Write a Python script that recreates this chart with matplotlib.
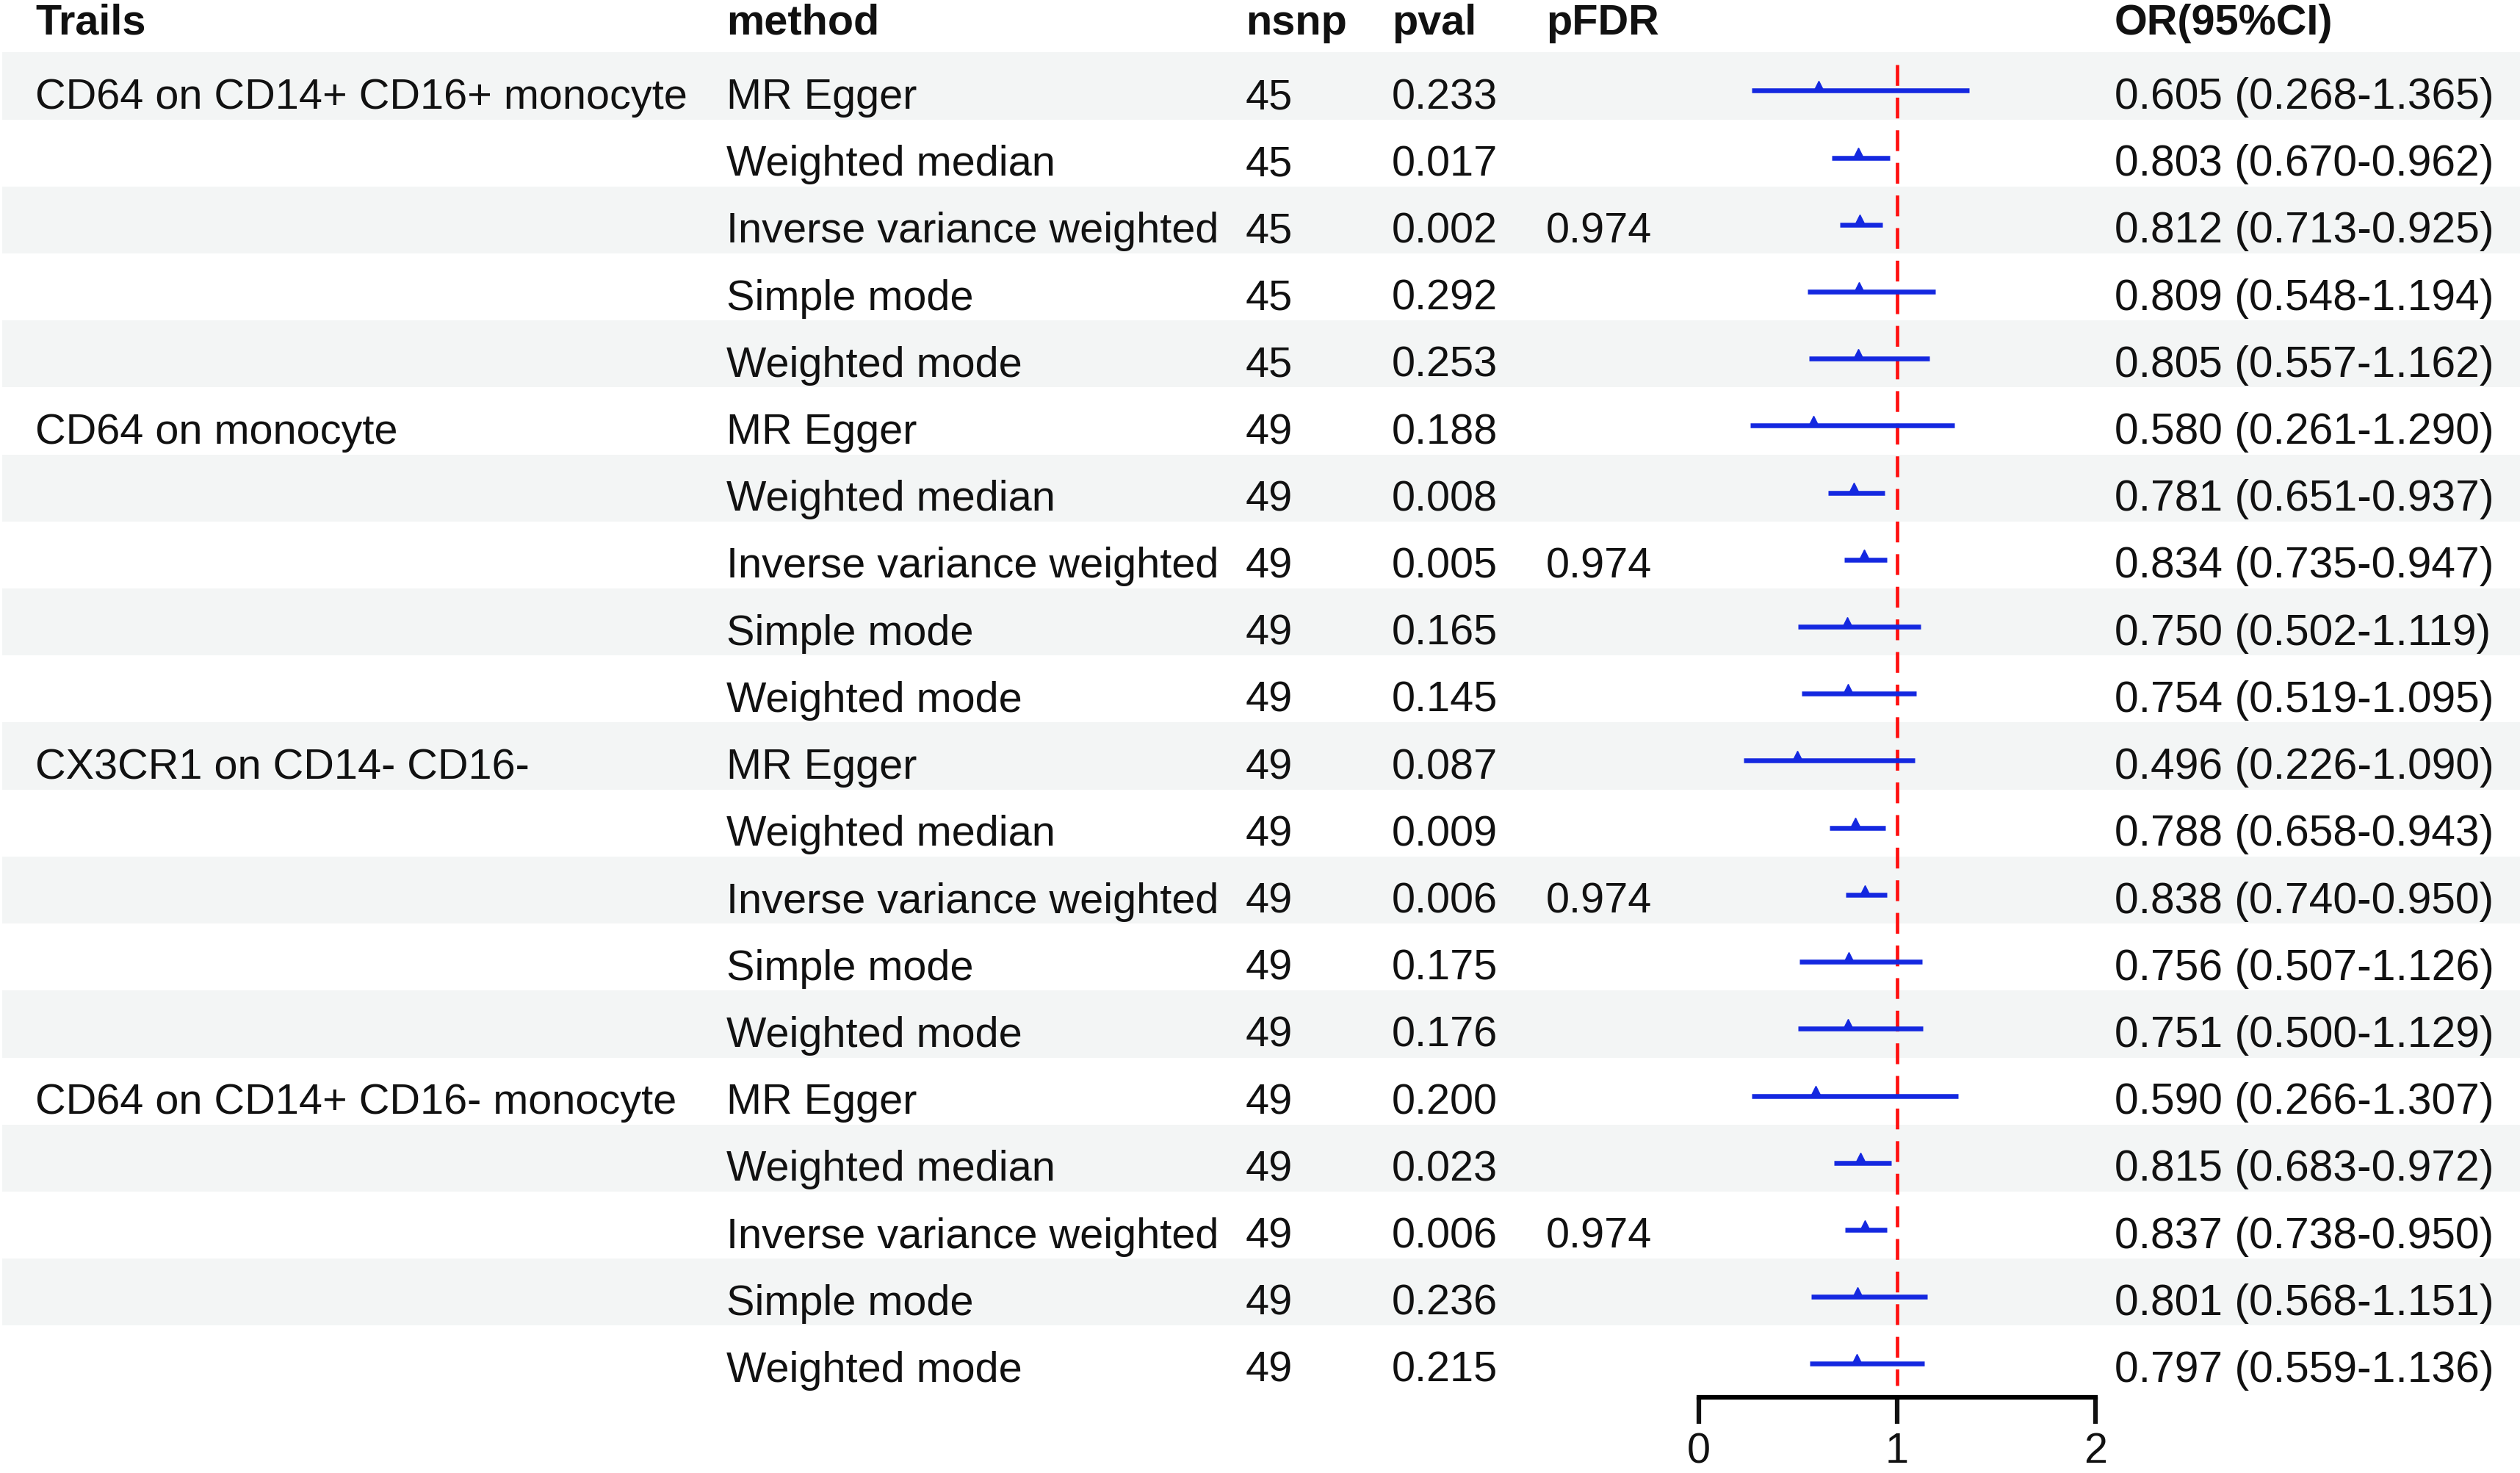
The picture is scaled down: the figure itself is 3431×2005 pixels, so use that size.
import numpy as np
import matplotlib
matplotlib.use('Agg')
import matplotlib.pyplot as plt

plt.rcParams['font.family'] = ['Liberation Sans', 'DejaVu Sans']

# Date
traits = ['CD64 on CD14+ CD16+ monocyte', 'CD64 on monocyte',
          'CX3CR1 on CD14- CD16-', 'CD64 on CD14+ CD16- monocyte']
methods = ['MR Egger', 'Weighted median', 'Inverse variance weighted',
           'Simple mode', 'Weighted mode']
nsnp = [45] * 5 + [49] * 15
pval = [0.233, 0.017, 0.002, 0.292, 0.253,
        0.188, 0.008, 0.005, 0.165, 0.145,
        0.087, 0.009, 0.006, 0.175, 0.176,
        0.200, 0.023, 0.006, 0.236, 0.215]
pfdr = [0.974] * 4
OR = [0.605, 0.803, 0.812, 0.809, 0.805,
      0.580, 0.781, 0.834, 0.750, 0.754,
      0.496, 0.788, 0.838, 0.756, 0.751,
      0.590, 0.815, 0.837, 0.801, 0.797]
lo = [0.268, 0.670, 0.713, 0.548, 0.557,
      0.261, 0.651, 0.735, 0.502, 0.519,
      0.226, 0.658, 0.740, 0.507, 0.500,
      0.266, 0.683, 0.738, 0.568, 0.559]
hi = [1.365, 0.962, 0.925, 1.194, 1.162,
      1.290, 0.937, 0.947, 1.119, 1.095,
      1.090, 0.943, 0.950, 1.126, 1.129,
      1.307, 0.972, 0.950, 1.151, 1.136]
headers = ['Trails', 'method', 'nsnp', 'pval', 'pFDR', 'OR(95%CI)']

n = len(OR)
rows = np.arange(n)
fs = 41.5
tc = '#111111'

fig = plt.figure(figsize=(34.31, 20.05), dpi=100)
ax = fig.add_axes([0, 0, 1, 1])
ax.set_xlim(0, 1)
ax.set_ylim(20.70, -1.283)
ax.axis('off')

# dungi alternante
for i in rows:
    if i % 2 == 0:
        ax.axhspan(i - 0.5, i + 0.5, xmin=0.001, color='#f3f5f5', lw=0, zorder=0)

tr = ax.get_yaxis_transform()
col_x = [0.014, 0.2883, 0.4943, 0.5523, 0.6135, 0.8391]

# antet
for x, h in zip(col_x, headers):
    ax.text(x, -0.77, h, fontsize=fs, fontweight='bold', va='baseline', ha='left',
            transform=tr, color=tc)

# randuri
dy = 0.34
for i in rows:
    g, m = divmod(i, 5)
    if m == 0:
        ax.text(col_x[0], i + dy, traits[g], fontsize=fs, va='baseline', transform=tr, color=tc)
    ax.text(col_x[1], i + dy, methods[m], fontsize=fs, va='baseline', transform=tr, color=tc)
    ax.text(col_x[2], i + dy, str(nsnp[i]), fontsize=fs, va='baseline', transform=tr, color=tc)
    ax.text(col_x[3], i + dy, '%.3f' % pval[i], fontsize=fs, va='baseline', transform=tr, color=tc)
    if m == 2:
        ax.text(col_x[4], i + dy, '%.3f' % pfdr[g], fontsize=fs, va='baseline', transform=tr, color=tc)
    ax.text(col_x[5], i + dy, '%.3f (%.3f-%.3f)' % (OR[i], lo[i], hi[i]),
            fontsize=fs + 0.8, va='baseline', transform=tr, color=tc)

# Grafic forest
fx = fig.add_axes([0.6741, 0, 0.1574, 1], sharey=ax)
fx.set_xlim(0, 2)
fx.patch.set_alpha(0)
fx.vlines(1, -0.32, 19.4, color='#ff1010', lw=3.4, linestyles=(0, (6, 3.4)), zorder=1)
yl = rows + 0.07
fx.hlines(yl, lo, hi, color='#1428e0', lw=4.7, zorder=2)
fx.plot(OR, yl - 0.07, '^', color='#1428e0', ms=10, zorder=3)
for s in ['top', 'right', 'left']:
    fx.spines[s].set_visible(False)
fx.spines['bottom'].set_position(('data', 19.57))
fx.spines['bottom'].set_bounds(0, 2)
fx.spines['bottom'].set_linewidth(4.5)
fx.set_xticks([0, 1, 2])
fx.tick_params(axis='x', length=26, width=4.5, labelsize=fs, pad=8, colors=tc)
fx.tick_params(axis='y', left=False, labelleft=False)

fig.savefig('out.png', dpi=100)
